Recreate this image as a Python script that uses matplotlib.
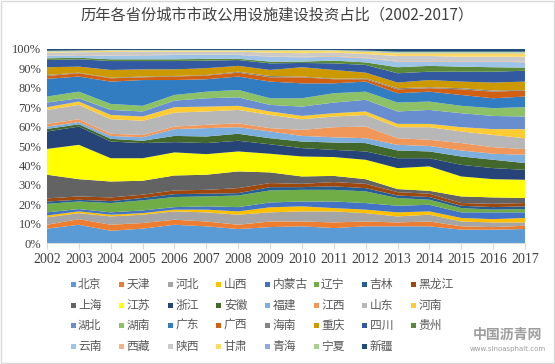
import numpy as np
import matplotlib
matplotlib.use("Agg")
import matplotlib.pyplot as plt
from matplotlib.patches import Rectangle

plt.rcParams['font.family'] = ['Noto Sans CJK SC', 'DejaVu Sans']

years = list(range(2002, 2018))
provinces = ['北京', '天津', '河北', '山西', '内蒙古', '辽宁', '吉林', '黑龙江',
             '上海', '江苏', '浙江', '安徽', '福建', '江西', '山东', '河南',
             '湖北', '湖南', '广东', '广西', '海南', '重庆', '四川', '贵州',
             '云南', '西藏', '陕西', '甘肃', '青海', '宁夏', '新疆']

beijing   = [7.4, 9.4, 6.3, 7.4, 9.4, 8.6, 7.2, 8.2, 8.6, 7.7, 8.6, 8.6, 8.6, 6.9, 6.9, 7.2]
tianjin   = [2.0, 2.9, 3.1, 2.9, 2.6, 2.5, 2.2, 2.9, 2.5, 2.9, 2.5, 2.0, 2.5, 1.7, 1.3, 1.7]
hebei     = [3.8, 3.1, 4.3, 4.3, 4.3, 4.7, 5.2, 4.7, 5.2, 5.7, 4.3, 3.1, 3.5, 2.5, 2.4, 1.7]
shanxi    = [1.0, 0.9, 0.9, 0.8, 0.9, 1.4, 1.7, 2.6, 2.6, 1.7, 1.8, 2.1, 1.7, 1.8, 1.7, 2.3]
neimenggu = [1.6, 1.2, 1.2, 1.4, 1.3, 1.7, 2.2, 2.5, 2.5, 3.4, 3.4, 3.4, 3.4, 2.9, 3.5, 2.9]
liaoning  = [4.4, 3.9, 4.8, 5.2, 5.2, 5.1, 6.0, 6.2, 6.0, 6.0, 6.0, 4.0, 2.6, 2.2, 1.4, 1.7]
jilin     = [1.2, 0.9, 1.0, 1.2, 1.5, 1.4, 1.2, 1.7, 1.4, 1.8, 1.7, 1.3, 1.4, 1.2, 1.3, 1.4]
heilongjiang = [1.6, 1.7, 1.9, 1.7, 1.9, 2.0, 2.6, 2.1, 1.7, 2.2, 2.2, 1.7, 1.7, 1.4, 1.7, 1.7]
shanghai  = [12.2, 8.9, 8.2, 7.2, 7.7, 7.8, 8.6, 5.5, 3.8, 3.2, 2.4, 1.6, 1.5, 3.4, 3.3, 2.6]
jiangsu   = [13.3, 17.7, 12.0, 11.6, 11.9, 10.6, 10.3, 9.6, 10.3, 9.7, 10.0, 10.8, 12.6, 10.3, 9.4, 9.4]
zhejiang  = [9.0, 9.4, 8.6, 7.8, 5.3, 5.7, 5.5, 4.9, 4.3, 3.7, 4.3, 5.1, 4.2, 6.0, 5.7, 5.1]
anhui     = [1.3, 1.2, 1.4, 1.2, 3.2, 3.4, 3.6, 3.1, 3.4, 3.8, 4.3, 4.0, 3.5, 4.3, 4.3, 3.5]
fujian    = [1.2, 1.1, 1.5, 1.8, 3.5, 4.3, 3.4, 3.5, 2.9, 2.7, 2.5, 2.9, 2.8, 3.1, 3.1, 4.3]
jiangxi   = [1.4, 1.5, 1.1, 1.2, 1.3, 1.7, 2.0, 1.7, 3.1, 5.2, 6.0, 3.4, 3.2, 3.8, 3.4, 2.9]
shandong  = [7.2, 7.4, 7.5, 7.3, 7.2, 6.9, 6.9, 6.8, 5.5, 5.5, 6.0, 5.7, 6.5, 6.0, 6.3, 5.6]
henan     = [1.4, 1.7, 2.2, 2.2, 2.8, 2.5, 2.1, 1.8, 1.7, 1.7, 1.8, 1.7, 1.7, 2.2, 3.0, 4.7]
hubei     = [2.4, 1.7, 2.6, 2.6, 3.4, 4.3, 4.4, 3.4, 4.8, 5.5, 6.0, 6.4, 7.2, 7.2, 6.8, 6.5]
hunan     = [3.1, 3.4, 3.1, 2.9, 2.9, 3.4, 3.8, 3.4, 4.3, 4.8, 4.2, 4.6, 4.3, 3.8, 4.0, 4.8]
guangdong = [9.1, 7.8, 11.5, 13.3, 7.7, 6.4, 6.9, 8.6, 7.7, 5.1, 5.2, 4.8, 5.1, 5.6, 5.1, 5.5]
guangxi   = [1.5, 1.7, 1.7, 1.4, 1.8, 1.9, 2.0, 2.2, 3.1, 2.1, 1.2, 2.0, 1.8, 2.9, 3.4, 3.1]
hainan    = [0.5, 0.3, 0.3, 0.4, 0.3, 0.3, 0.5, 0.7, 0.4, 0.3, 0.5, 0.6, 0.5, 0.6, 0.6, 0.3]
chongqing = [4.0, 3.1, 4.0, 3.7, 3.4, 3.5, 3.0, 3.1, 4.8, 4.5, 2.9, 2.9, 3.7, 3.4, 4.1, 4.3]
sichuan   = [3.7, 3.8, 4.6, 4.3, 4.3, 3.9, 3.0, 3.4, 2.2, 3.4, 4.0, 4.8, 4.3, 5.1, 5.6, 5.6]
guizhou   = [0.9, 0.8, 0.9, 0.9, 0.9, 0.9, 0.7, 0.9, 0.7, 1.4, 1.3, 3.1, 3.0, 2.6, 2.3, 1.6]
yunnan    = [1.2, 1.2, 1.7, 2.0, 2.2, 2.0, 1.9, 2.5, 2.2, 2.0, 2.1, 2.9, 2.2, 2.6, 2.9, 2.7]
xizang    = [0.1, 0.2, 0.2, 0.2, 0.2, 0.2, 0.2, 0.2, 0.3, 0.4, 0.3, 0.3, 0.3, 0.3, 0.3, 0.4]
shaanxi   = [1.6, 1.4, 1.9, 1.7, 1.5, 1.5, 1.5, 1.9, 1.8, 1.7, 1.9, 2.6, 2.6, 2.2, 2.2, 2.5]
gansu     = [0.5, 0.5, 0.6, 0.5, 0.5, 0.5, 0.5, 0.9, 1.2, 1.0, 1.2, 1.4, 1.4, 1.8, 1.8, 1.8]
qinghai   = [0.2, 0.2, 0.2, 0.2, 0.2, 0.2, 0.2, 0.2, 0.2, 0.2, 0.3, 0.3, 0.3, 0.3, 0.3, 0.3]
ningxia   = [0.3, 0.3, 0.2, 0.2, 0.2, 0.2, 0.2, 0.3, 0.3, 0.2, 0.3, 0.5, 0.5, 0.5, 0.5, 0.5]
xinjiang  = [0.9, 0.7, 0.5, 0.5, 0.5, 0.5, 0.5, 0.5, 0.5, 0.5, 0.8, 1.4, 1.4, 1.4, 1.4, 1.4]

series = [beijing, tianjin, hebei, shanxi, neimenggu, liaoning, jilin, heilongjiang,
          shanghai, jiangsu, zhejiang, anhui, fujian, jiangxi, shandong, henan,
          hubei, hunan, guangdong, guangxi, hainan, chongqing, sichuan, guizhou,
          yunnan, xizang, shaanxi, gansu, qinghai, ningxia, xinjiang]

colors = ['#5B9BD5', '#ED7D31', '#A5A5A5', '#FFC000', '#4472C4', '#70AD47',
          '#255E91', '#9E480E', '#636363', '#FFFF00', '#264478', '#43682B',
          '#7CAFDD', '#F1975A', '#B7B7B7', '#FFCD33', '#698ED0', '#8CC168',
          '#327DC2', '#D26012', '#848484', '#CC9A00', '#335AA1', '#5A8A39',
          '#9DC3E6', '#F4B183', '#C9C9C9', '#FFD966', '#8FAADC', '#A9D18E',
          '#1F4E79']

data = np.array(series, dtype=float)
data = data / data.sum(axis=0) * 100.0

fig = plt.figure(figsize=(5.55, 3.64), dpi=100)
fig.patch.set_facecolor('white')
fig.add_artist(Rectangle((0.002, 0.003), 0.996, 0.994, transform=fig.transFigure,
                         fill=False, edgecolor='#D9D9D9', linewidth=1.0))

ax = fig.add_axes([0.0847, 0.3324, 0.8612, 0.533])
ax.stackplot(years, data, colors=colors, linewidth=0)
ax.set_xlim(2002, 2017)
ax.set_ylim(0, 100)
ax.set_yticks(range(0, 101, 10))
ax.set_yticklabels([f'{v}%' for v in range(0, 101, 10)],
                   family='Liberation Serif', fontsize=9, color='#404040')
ax.set_xticks(years)
ax.set_xticklabels([str(y) for y in years], family='Liberation Serif',
                   fontsize=10, color='#404040')
for s in ['top', 'right', 'left']:
    ax.spines[s].set_visible(False)
ax.spines['bottom'].set_color('#D9D9D9')
ax.tick_params(axis='y', length=0, pad=4)
ax.tick_params(axis='x', length=4, color='#D9D9D9', pad=3)

fig.text(0.5, 0.958, '历年各省份城市市政公用设施建设投资占比（2002-2017）',
         ha='center', va='center', fontsize=11, color='#404040')

# legend (4 rows x 8 columns, row-major)
W, H = 555.0, 364.0
x0, dx = 73.0, 48.6
row_y = [284.5, 305.0, 325.5, 346.5]
for i, (name, c) in enumerate(zip(provinces, colors)):
    r, k = divmod(i, 8)
    mx = x0 + k * dx
    my = row_y[r]
    fig.add_artist(Rectangle(((mx - 2.5) / W, 1 - (my + 2.5) / H), 5 / W, 5 / H,
                             transform=fig.transFigure, facecolor=c, edgecolor='none'))
    fig.text((mx + 5) / W, 1 - my / H, name, ha='left', va='center',
             fontsize=8.5, color='#595959')

fig.text(0.915, 1 - 335 / H, '中国沥青网', ha='center', va='center', fontsize=10,
         color='#8C8C8C', alpha=0.85, weight='bold')
fig.text(0.915, 1 - 349 / H, 'www.sinoasphalt.com', ha='center', va='center',
         fontsize=5, color='#8C8C8C', alpha=0.85, family='DejaVu Sans')

fig.savefig('out.png', dpi=100)
